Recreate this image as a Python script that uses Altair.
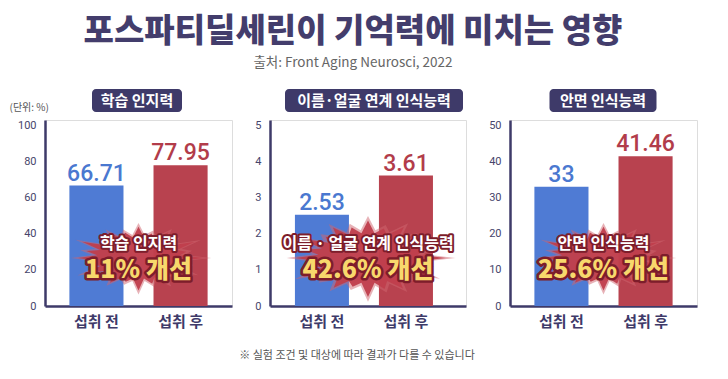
import math
import altair as alt
import pandas as pd

# ---------------- data ----------------
categories = ["섭취 전", "섭취 후"]
panel_titles = ["학습 인지력", "이름·얼굴 연계 인식능력", "안면 인식능력"]
values_learning = [66.71, 77.95]
values_name_face = [2.53, 3.61]
values_face = [33, 41.46]
labels_learning = ["66.71", "77.95"]
labels_name_face = ["2.53", "3.61"]
labels_face = ["33", "41.46"]
y_ticks_learning = [0, 20, 40, 60, 80, 100]
y_ticks_name_face = [0, 1, 2, 3, 4, 5]
y_ticks_face = [0, 10, 20, 30, 40, 50]
burst_captions = ["학습 인지력", "이름 · 얼굴 연계 인식능력", "안면 인식능력"]
burst_improvements = ["11% 개선", "42.6% 개선", "25.6% 개선"]

TITLE = "포스파티딜세린이 기억력에 미치는 영향"
SOURCE = "출처: Front Aging Neurosci, 2022"
UNIT = "(단위: %)"
FOOTNOTE = "※ 실험 조건 및 대상에 따라 결과가 다를 수 있습니다"

# ---------------- style ----------------
NAVY = "#3e3a69"
BLUE = "#4f7bd4"
RED = "#b8424f"
BLUE_TXT = "#4a78d0"
RED_TXT = "#b23c4a"
KFONT = "Noto Sans CJK KR"
NFONT = "Roboto"
H = 186


def burst_path():
    # decorative starburst outline in unit coordinates
    outer = [1.0, 0.78, 0.95, 0.74, 0.9, 0.82, 1.0, 0.76, 0.88, 0.8, 0.97, 0.75,
             0.93, 0.83, 1.0, 0.77, 0.9, 0.81, 0.96, 0.78, 0.92, 0.8, 0.99, 0.76]
    n = len(outer)
    pts = []
    for i in range(2 * n):
        a = math.pi * i / n
        r = outer[i // 2] if i % 2 == 0 else 0.64
        pts.append((r * math.cos(a), r * math.sin(a) * 0.5))
    return "M" + " L".join(f"{x:.3f},{y:.3f}" for x, y in pts) + " Z"


BURST = burst_path()


def panel(values, labels, ticks, title, caption, improvement, width,
          p_outer, align, box_w, box_cx, burst_w, unit=False):
    df = pd.DataFrame({"cat": categories, "value": values, "label": labels})
    ymax = ticks[-1] * 1.03
    xaxis = alt.Axis(title=None, labelAngle=0, ticks=False, labelFontSize=15,
                     labelFont=KFONT, labelFontWeight="bold", labelColor=NAVY,
                     labelPadding=8, domainColor=NAVY, domainWidth=2.5)
    xscale = alt.Scale(paddingInner=0.357, paddingOuter=p_outer, align=align)
    axis_kw = dict(values=ticks, tickCount=len(ticks), ticks=False, grid=False,
                   labelFontSize=11, labelFont=NFONT, labelColor="#47456b",
                   labelPadding=9, labelOverlap=False, domainColor=NAVY,
                   domainWidth=2.5)
    if unit:
        yaxis = alt.Axis(title=UNIT, titleAngle=0, titleX=-36, titleY=-13,
                         titleAlign="left", titleBaseline="middle", titleFontSize=10,
                         titleFont=KFONT, titleFontWeight="normal",
                         titleColor="#555555", **axis_kw)
    else:
        yaxis = alt.Axis(title=None, **axis_kw)
    yscale = alt.Scale(domain=[0, ymax], nice=False)
    xs = alt.X("cat:N", sort=categories, scale=xscale, axis=xaxis)
    ys = alt.Y("value:Q", scale=yscale, axis=yaxis)
    base = alt.Chart(df)
    bars = base.mark_bar().encode(
        x=xs, y=ys,
        color=alt.Color("cat:N", scale=alt.Scale(domain=categories, range=[BLUE, RED]),
                        legend=None))
    vals = base.mark_text(baseline="alphabetic", dy=-5, fontSize=23, font=NFONT,
                          fontWeight=500).encode(
        x=xs, y=ys, text="label:N",
        fill=alt.Fill("cat:N", scale=alt.Scale(domain=categories,
                                               range=[BLUE_TXT, RED_TXT]),
                      legend=None))
    deco = alt.Chart(pd.DataFrame({"t": [title]}))
    box = deco.mark_rect(color=NAVY, cornerRadius=4).encode(
        x=alt.value(box_cx - box_w / 2), x2=alt.value(box_cx + box_w / 2),
        y=alt.value(-31), y2=alt.value(-8))
    box_t = deco.mark_text(color="white", fontSize=15, font=KFONT, fontWeight="bold",
                           baseline="middle").encode(
        x=alt.value(box_cx), y=alt.value(-19), text="t:N")
    cx = width / 2
    burst_outer = deco.mark_point(shape=BURST, filled=True, color="#cf6670",
                                  opacity=0.5, strokeWidth=0).encode(
        x=alt.value(cx), y=alt.value(138), size=alt.value((burst_w * 1.12) ** 2))
    burst = deco.mark_point(shape=BURST, filled=True, color="#c03e4c",
                            opacity=0.95, strokeWidth=0).encode(
        x=alt.value(cx), y=alt.value(138), size=alt.value(burst_w ** 2))
    cap_df = pd.DataFrame({"c": [caption], "imp": [improvement]})
    cap = alt.Chart(cap_df)
    cap_s = cap.mark_text(fontSize=16, font=KFONT, fontWeight="bold", stroke="#7d1d2b",
                          strokeWidth=4, strokeJoin="round", fill="#7d1d2b",
                          baseline="middle").encode(
        x=alt.value(cx), y=alt.value(124), text="c:N")
    cap_f = cap.mark_text(fontSize=16, font=KFONT, fontWeight="bold", fill="white",
                          baseline="middle").encode(
        x=alt.value(cx), y=alt.value(124), text="c:N")
    imp_s = cap.mark_text(fontSize=25, font=KFONT, fontWeight=900, stroke="#7d1d2b",
                          strokeWidth=5, strokeJoin="round", fill="#7d1d2b",
                          baseline="middle").encode(
        x=alt.value(cx), y=alt.value(150), text="imp:N")
    imp_f = cap.mark_text(fontSize=25, font=KFONT, fontWeight=900, fill="#f8d86c",
                          baseline="middle").encode(
        x=alt.value(cx), y=alt.value(150), text="imp:N")
    layers = [bars, vals, box, box_t, burst_outer, burst, cap_s, cap_f, imp_s, imp_f]
    return alt.layer(*layers).properties(width=width, height=H)


p1 = panel(values_learning, labels_learning, y_ticks_learning, panel_titles[0],
           burst_captions[0], burst_improvements[0], 187, 0.29, 0.5, 90, 92, 130,
           unit=True)
p2 = panel(values_name_face, labels_name_face, y_ticks_name_face, panel_titles[1],
           burst_captions[1], burst_improvements[1], 196, 0.345, 0.43, 178, 104, 156)
p3 = panel(values_face, labels_face, y_ticks_face, panel_titles[2],
           burst_captions[2], burst_improvements[2], 187, 0.29, 0.5, 107, 93, 130)

inner = alt.hconcat(p1, p2, p3, spacing=21).properties(
    title=alt.TitleParams(text=FOOTNOTE, orient="bottom", anchor="middle",
                          fontSize=11, fontWeight="normal", font=KFONT,
                          color="#555555", offset=20, dx=4))

chart = alt.vconcat(inner).properties(
    title=alt.TitleParams(text=TITLE, subtitle=SOURCE, fontSize=33, fontWeight=900,
                          font=KFONT, color="#433d6c", subtitleFont=KFONT,
                          subtitleFontSize=13.5, subtitleColor="#666666",
                          subtitlePadding=7, anchor="middle", offset=19),
    padding={"left": 0, "top": 8, "right": 0, "bottom": 0},
).configure_view(stroke=None).configure(background="white")

chart.save("out.html", embed_options={"renderer": "svg", "actions": False})
